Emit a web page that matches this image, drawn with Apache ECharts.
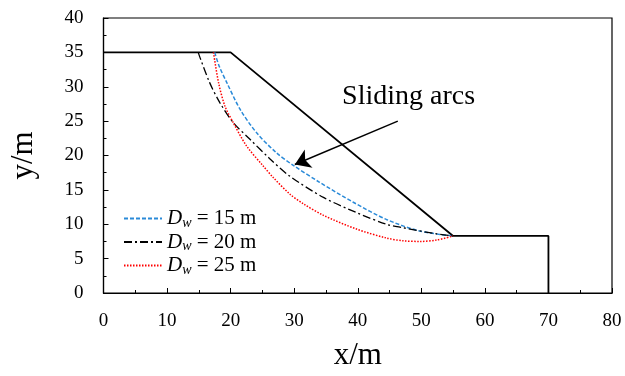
<!DOCTYPE html>
<html>
<head>
<meta charset="utf-8">
<script src="https://cdn.jsdelivr.net/npm/echarts@6/dist/echarts.min.js"></script>
<style>
  html, body { margin: 0; padding: 0; background: #fff; }
  #chart { width: 625px; height: 376px; }
</style>
</head>
<body>
<div id="chart"></div>
<script>
// slope geometry (x, y in m)
const slopeProfile = [[0, 35], [20, 35], [55, 8.3], [70, 8.3], [70, 0]];

// sliding arcs
const arcDw15 = [[17.5, 35], [18.2, 33], [19.4, 30.6], [21.5, 26.7], [24.1, 23.3], [27.2, 20.4],
  [29.8, 18.6], [34.0, 16.1], [39.3, 13.2], [44.5, 10.7], [49.8, 9.0], [55, 8.3]];
const arcDw20 = [[14.9, 35], [15.2, 34.2], [16.7, 30.6], [18.3, 27.7], [20.4, 24.8], [23.0, 22.4],
  [26.2, 19.5], [29.3, 17.0], [34.6, 13.9], [39.8, 11.7], [44.5, 10.0], [47.1, 9.5], [52.4, 8.6], [55, 8.3]];
const arcDw25 = [[17.3, 35], [18.1, 30.6], [19.1, 27.2], [20.4, 24.8], [22.5, 21.4], [25.1, 18.5],
  [26.7, 16.8], [29.3, 14.4], [31.4, 13.0], [34.6, 11.3], [39.8, 9.3], [44.5, 8.0], [47.1, 7.6],
  [49.8, 7.5], [52.4, 7.7], [55, 8.3]];

const depths = [15, 20, 25];
const arrowFrom = [46.3, 25.0];
const arrowTo = [30.1, 18.7];
const notePos = [48.0, 28.6];

const serif = "'Liberation Serif', 'Times New Roman', serif";
const chart = echarts.init(document.getElementById("chart"), null, { renderer: "canvas" });

const arcName = d => "Dw" + d;

chart.setOption({
  animation: false,
  backgroundColor: "#fff",
  textStyle: { fontFamily: serif, color: "#000" },
  grid: {
    left: 103.5, right: 13, top: 18, bottom: 82,
    show: true, borderColor: "#000", borderWidth: 1.2
  },
  legend: {
    show: true,
    data: depths.map(arcName),
    orient: "vertical",
    left: 118, top: 203,
    itemWidth: 38, itemHeight: 12, itemGap: 1.5,
    itemStyle: { opacity: 0 },
    formatter: name => "{i|D}{s|w}{t| = " + name.slice(2) + " m}",
    textStyle: {
      fontFamily: serif, color: "#000", fontSize: 21,
      rich: {
        i: { fontFamily: serif, fontSize: 21, fontStyle: "italic", color: "#000" },
        s: { fontFamily: serif, fontSize: 14, fontStyle: "italic", color: "#000", verticalAlign: "bottom", padding: [9, 0, 0, 0] },
        t: { fontFamily: serif, fontSize: 21, color: "#000" }
      }
    }
  },
  xAxis: {
    type: "value", min: 0, max: 80, interval: 10,
    name: "x/m", nameLocation: "middle", nameGap: 47,
    nameTextStyle: { fontFamily: serif, fontSize: 31, color: "#000" },
    axisLine: { onZero: false, lineStyle: { color: "#000", width: 1.2 } },
    axisTick: { inside: true, length: 5, lineStyle: { color: "#000" } },
    minorTick: { show: true, splitNumber: 2, length: 3, lineStyle: { color: "#000" } },
    axisLabel: { margin: 19, fontFamily: serif, fontSize: 19, color: "#000" },
    splitLine: { show: false }
  },
  yAxis: {
    type: "value", min: 0, max: 40, interval: 5,
    name: "y/m", nameLocation: "middle", nameGap: 64, nameRotate: 90,
    nameTextStyle: { fontFamily: serif, fontSize: 31, color: "#000" },
    axisLine: { onZero: false, lineStyle: { color: "#000", width: 1.2 } },
    axisTick: { inside: true, length: 5, lineStyle: { color: "#000" } },
    minorTick: { show: true, splitNumber: 2, length: 3, lineStyle: { color: "#000" } },
    axisLabel: { margin: 20, fontFamily: serif, fontSize: 19, color: "#000" },
    splitLine: { show: false }
  },
  series: [
    {
      name: "slope", type: "line", data: slopeProfile, symbol: "none",
      lineStyle: { color: "#000", width: 1.8 },
      markLine: {
        silent: true, symbol: ["none", "arrow"], symbolSize: 15,
        lineStyle: { color: "#000", width: 1.5, type: "solid" },
        label: { show: false },
        data: [[{ coord: arrowFrom }, { coord: arrowTo }]]
      },
      markPoint: {
        silent: true, symbol: "circle", symbolSize: 1,
        itemStyle: { color: "rgba(0,0,0,0)" },
        label: {
          show: true, position: "inside", formatter: "Sliding arcs",
          fontFamily: serif, fontSize: 28, color: "#000"
        },
        data: [{ coord: notePos }]
      }
    },
    {
      name: arcName(15), type: "line", data: arcDw15, symbol: "none", smooth: 0.3,
      itemStyle: { color: "#2a8ad8" },
      lineStyle: { color: "#2a8ad8", width: 1.5, type: [4, 2] }
    },
    {
      name: arcName(20), type: "line", data: arcDw20, symbol: "none", smooth: 0.3,
      itemStyle: { color: "#000" },
      lineStyle: { color: "#000", width: 1.3, type: [8, 3, 2, 3] }
    },
    {
      name: arcName(25), type: "line", data: arcDw25, symbol: "none", smooth: 0.3,
      itemStyle: { color: "#ff0000" },
      lineStyle: { color: "#ff0000", width: 1.5, type: [1.5, 1.5] }
    }
  ]
});
</script>
</body>
</html>
